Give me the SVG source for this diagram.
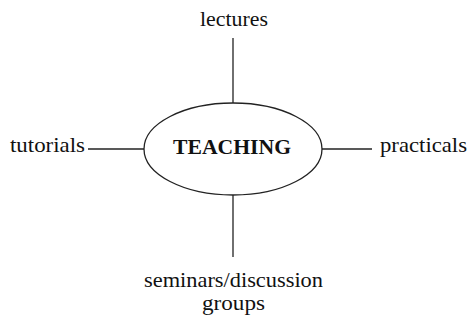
<svg xmlns="http://www.w3.org/2000/svg" width="469" height="322" viewBox="0 0 469 322">
<style>
text{font-family:"Liberation Serif","Times New Roman",serif;font-size:21px;fill:#111}
.c{stroke:#222;stroke-width:1.3;fill:none}
</style>
<rect width="469" height="322" fill="#fff"/>
<g id="connectors">
<line class="c" x1="233" y1="38" x2="233" y2="103"/>
<line class="c" x1="233" y1="195" x2="233" y2="257"/>
<line class="c" x1="88" y1="149" x2="144" y2="149"/>
<line class="c" x1="322" y1="149" x2="372" y2="149"/>
</g>
<g id="teaching">
<ellipse class="c" cx="233" cy="149" rx="89" ry="46"/>
<text x="173" y="154" textLength="118" lengthAdjust="spacingAndGlyphs" font-weight="bold">TEACHING</text>
</g>
<g id="lectures"><text x="200" y="26" textLength="68" lengthAdjust="spacingAndGlyphs">lectures</text></g>
<g id="tutorials"><text x="10" y="152" textLength="75" lengthAdjust="spacingAndGlyphs">tutorials</text></g>
<g id="practicals"><text x="380" y="152" textLength="87" lengthAdjust="spacingAndGlyphs">practicals</text></g>
<g id="seminars"><text x="144" y="287" textLength="179" lengthAdjust="spacingAndGlyphs">seminars/discussion</text><text x="202" y="310" textLength="63" lengthAdjust="spacingAndGlyphs">groups</text></g>
</svg>
